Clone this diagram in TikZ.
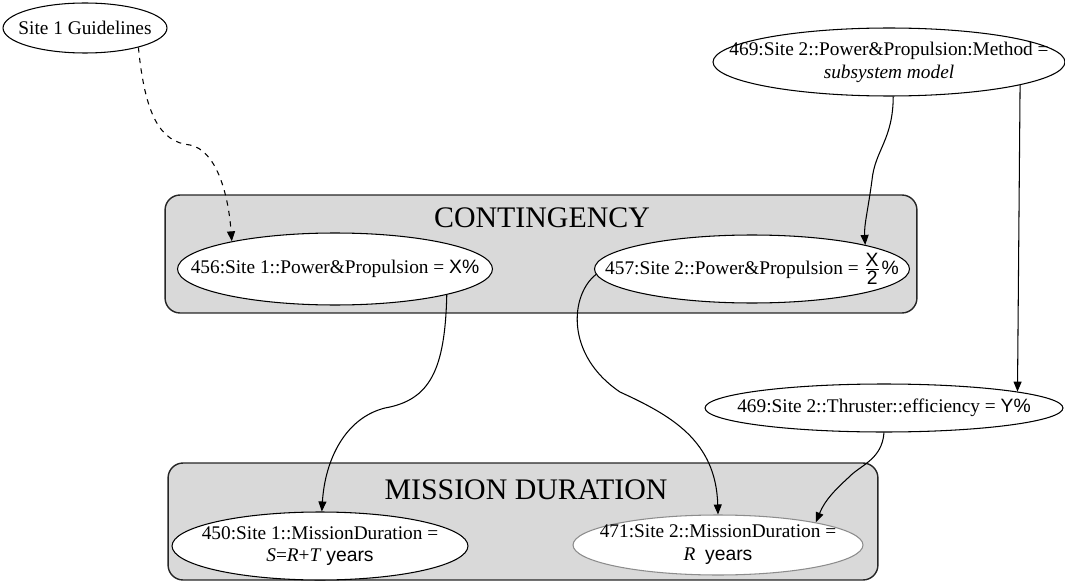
\documentclass[tikz,border=0pt]{standalone}
\usepackage{amsmath}
\usepackage{fontspec}
\setmainfont{Liberation Serif}
\newfontfamily\sansf{Liberation Sans}
\usepackage{tikz}
\usetikzlibrary{shapes.geometric, arrows.meta}

\definecolor{panelgray}{HTML}{D9D9D9}

\begin{document}
\begin{tikzpicture}[x=0.02cm, y=-0.02cm, line width=0.6pt,
    every node/.style={font=\fontsize{11}{13}\selectfont},
    var/.style={ellipse, draw=black, fill=white, inner xsep=-0.8cm, inner ysep=0pt, align=center},
    panel/.style={draw=black!85, fill=panelgray, rounded corners=0.3cm, line width=0.8pt},
    paneltitle/.style={font=\fontsize{17}{20}\selectfont},
    link/.style={-{Triangle[length=0.2cm,width=0.16cm]}}]
  \useasboundingbox (0,0) rectangle (1065,581);                     % page size

  % grey panels
  \node [panel, minimum width=15.04cm, minimum height=2.36cm] (contbox) at (541,254) {};   % contingency panel
  \node [panel, minimum width=14.2cm, minimum height=2.34cm] (mdbox) at (523,521.5) {};    % mission duration panel
  \node [paneltitle] (conttitle) at (542,218) {CONTINGENCY};                               % panel title
  \node [paneltitle] (mdtitle) at (526,490) {MISSION DURATION};                            % panel title

  % variables
  \node [var, minimum width=3.28cm, minimum height=1.0cm] (guide) at (85,28) {Site 1 Guidelines};
  \node [var, minimum width=7.04cm, minimum height=1.36cm] (method) at (889,62)
        {469:Site 2::Power\&Propulsion:Method =\\ \textit{subsystem model}};
  \node [var, minimum width=6.3cm, minimum height=1.44cm] (pp1) at (335,269)
        {456:Site 1::Power\&Propulsion = {\sansf X\%}};
  \node [var, minimum width=6.3cm, minimum height=1.36cm] (pp2) at (752,269)
        {457:Site 2::Power\&Propulsion = $\frac{\mbox{\sansf X}}{\mbox{\sansf 2}}$\kern0.5pt{\sansf\%}};
  \node [var, minimum width=7.16cm, minimum height=0.96cm] (thrust) at (884,408)
        {469:Site 2::Thruster::efficiency = {\sansf Y\%}};
  \node [var, minimum width=5.92cm, minimum height=1.36cm] (md1) at (320,546)
        {450:Site 1::MissionDuration =\\ \textit{S}=\textit{R}+\textit{T} {\sansf years}};
  \node [var, draw=black!45, minimum width=5.8cm, minimum height=1.2cm] (md2) at (718,545)
        {471:Site 2::MissionDuration =\\ \textit{R} \ {\sansf years}};

  % links
  \draw [link, dashed] (guide.-20) .. controls (145,115) and (160,142) .. (190,145)
        .. controls (215,150) and (228,190) .. (pp1.165);                  % guideline
  \draw [link] (method.-83) .. controls (893,140) and (875,150) .. (872,180)
        .. controls (868,210) and (864,225) .. (pp2.12.5);                 % method to contingency
  \draw [link] (method.-10) -- (thrust.7.5);                              % method to efficiency
  \draw [link] (pp1.-13) .. controls (445,370) and (430,400) .. (385,408)
        .. controls (345,418) and (325,460) .. (md1.87);                   % site 1 duration
  \draw [link] (pp2.182) .. controls (570,295) and (565,355) .. (620,392)
        .. controls (670,415) and (716,440) .. (md2.90);                   % site 2 duration
  \draw [link] (thrust.-90) .. controls (882,460) and (860,465) .. (848,478)
        .. controls (835,490) and (825,500) .. (md2.13);                   % efficiency to duration
\end{tikzpicture}
\end{document}
